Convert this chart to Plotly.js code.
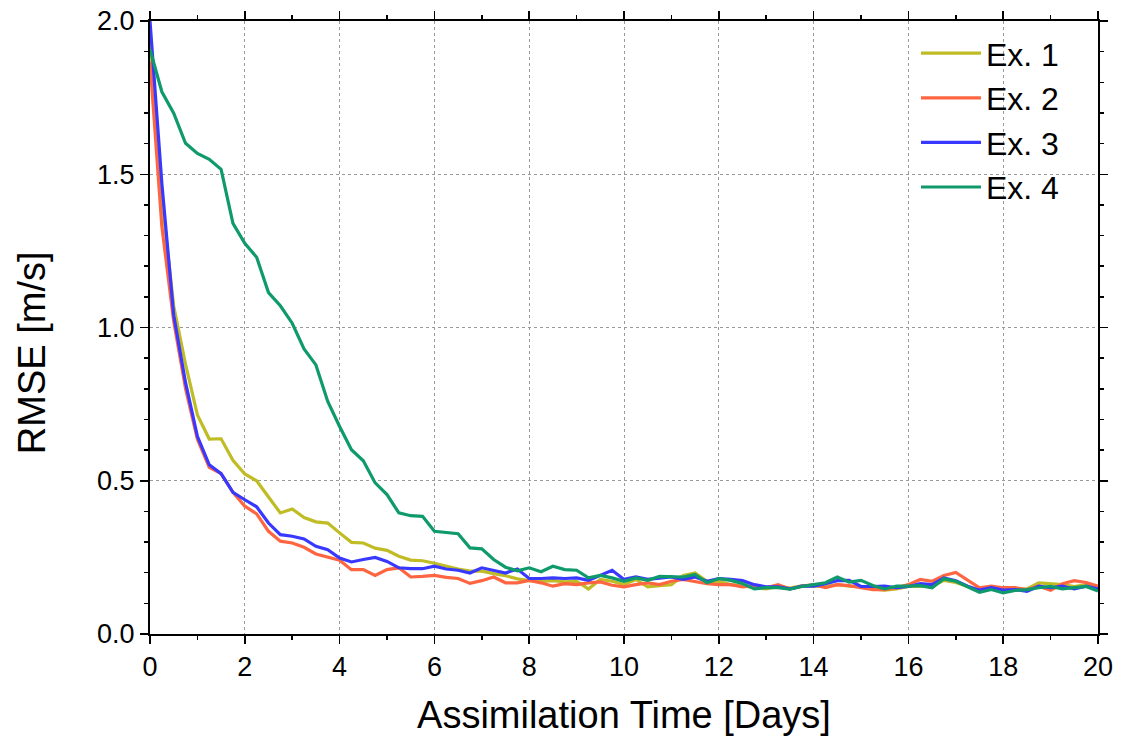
<!DOCTYPE html>
<html>
<head>
<meta charset="utf-8">
<script src="https://cdn.plot.ly/plotly-3.0.1.min.js"></script>
<style>html,body{margin:0;padding:0;background:#fff;}#chart{width:1125px;height:738px;}</style>
</head>
<body>
<div id="chart"></div>
<script>
const days = [0,0.25,0.5,0.75,1,1.25,1.5,1.75,2,2.25,2.5,2.75,3,3.25,3.5,3.75,4,4.25,4.5,4.75,
  5,5.25,5.5,5.75,6,6.25,6.5,6.75,7,7.25,7.5,7.75,8,8.25,8.5,8.75,9,9.25,9.5,9.75,
  10,10.25,10.5,10.75,11,11.25,11.5,11.75,12,12.25,12.5,12.75,13,13.25,13.5,13.75,14,14.25,14.5,14.75,
  15,15.25,15.5,15.75,16,16.25,16.5,16.75,17,17.25,17.5,17.75,18,18.25,18.5,18.75,19,19.25,19.5,19.75,20];

const ex1 = [1.95,1.42,1.07,0.88,0.715,0.636,0.637,0.567,0.522,0.500,0.447,0.395,0.408,0.380,0.366,0.362,0.330,0.299,0.297,0.280,
  0.273,0.254,0.241,0.239,0.231,0.221,0.212,0.205,0.205,0.197,0.190,0.180,0.174,0.172,0.174,0.170,0.172,0.147,0.178,0.172,
  0.161,0.178,0.154,0.158,0.161,0.191,0.199,0.172,0.172,0.161,0.158,0.151,0.147,0.155,0.150,0.157,0.156,0.155,0.161,0.156,
  0.155,0.147,0.143,0.147,0.155,0.156,0.156,0.175,0.168,0.155,0.139,0.147,0.139,0.145,0.147,0.167,0.164,0.161,0.155,0.161,0.155];

const ex2 = [1.867,1.33,1.02,0.80,0.635,0.544,0.523,0.462,0.417,0.392,0.335,0.303,0.297,0.283,0.261,0.250,0.241,0.210,0.210,0.191,
  0.210,0.216,0.186,0.188,0.191,0.185,0.181,0.165,0.174,0.186,0.167,0.167,0.175,0.167,0.156,0.164,0.161,0.167,0.170,0.159,
  0.154,0.161,0.167,0.161,0.172,0.178,0.170,0.164,0.161,0.161,0.154,0.158,0.151,0.161,0.147,0.156,0.161,0.151,0.161,0.158,
  0.151,0.145,0.145,0.151,0.161,0.178,0.172,0.191,0.201,0.176,0.151,0.156,0.151,0.151,0.145,0.156,0.143,0.164,0.174,0.168,0.156];

const ex3 = [2.0,1.47,1.04,0.82,0.645,0.552,0.523,0.462,0.438,0.415,0.362,0.324,0.319,0.310,0.286,0.275,0.248,0.235,0.243,0.250,
  0.237,0.216,0.213,0.213,0.221,0.212,0.208,0.199,0.216,0.208,0.199,0.212,0.181,0.181,0.183,0.181,0.183,0.175,0.191,0.208,
  0.178,0.186,0.178,0.183,0.186,0.178,0.186,0.172,0.181,0.178,0.174,0.161,0.154,0.154,0.147,0.156,0.156,0.164,0.174,0.175,
  0.155,0.155,0.156,0.151,0.155,0.164,0.161,0.183,0.174,0.156,0.143,0.151,0.143,0.145,0.139,0.156,0.151,0.156,0.147,0.156,0.147];

const ex4 = [1.907,1.769,1.699,1.601,1.568,1.549,1.516,1.340,1.275,1.229,1.114,1.071,1.014,0.930,0.878,0.759,0.677,0.601,0.565,0.493,
  0.455,0.395,0.386,0.384,0.335,0.332,0.327,0.281,0.278,0.243,0.218,0.206,0.216,0.203,0.221,0.210,0.208,0.183,0.191,0.183,
  0.172,0.183,0.175,0.188,0.188,0.186,0.194,0.167,0.181,0.175,0.165,0.147,0.151,0.151,0.146,0.155,0.161,0.167,0.186,0.169,
  0.175,0.158,0.147,0.156,0.156,0.158,0.151,0.180,0.172,0.154,0.136,0.145,0.134,0.142,0.145,0.151,0.155,0.147,0.151,0.155,0.140];

const seriesNames = ['Ex. 1','Ex. 2','Ex. 3','Ex. 4'];
const seriesValues = [ex1, ex2, ex3, ex4];
const seriesColors = ['#bfbc25','#ff6540','#3838ff','#0f9a6c'];
const xTitle = 'Assimilation Time [Days]';
const yTitle = 'RMSE [m/s]';

const traces = seriesValues.map((vals, i) => ({
  type: 'scatter', mode: 'lines', x: days, y: vals, name: seriesNames[i],
  line: {color: seriesColors[i], width: 3.2}
}));

const FONT = 'Liberation Sans, Arial, Helvetica, sans-serif';
const axisCommon = {
  showline: true, linecolor: '#000', linewidth: 2, mirror: 'allticks',
  ticks: 'outside', ticklen: 8, tickwidth: 1.5, tickcolor: '#000',
  showgrid: true, gridcolor: '#9a9a9a', gridwidth: 1, griddash: 'dot',
  zeroline: false, tickfont: {family: FONT, size: 27, color: '#000'}
};

const layout = {
  width: 1125, height: 738,
  margin: {l: 150, r: 27, t: 21, b: 104},
  paper_bgcolor: '#fff', plot_bgcolor: '#fff',
  font: {family: FONT, color: '#000'},
  showlegend: true,
  legend: {x: 0.808, y: 0.992, xanchor: 'left', yanchor: 'top', bgcolor: 'rgba(0,0,0,0)',
           font: {family: FONT, size: 32, color: '#000'}, itemwidth: 60, tracegroupgap: 0},
  xaxis: Object.assign({}, axisCommon, {
    range: [0, 20], dtick: 2, tick0: 0,
    minor: {dtick: 1, ticklen: 4, tickwidth: 1.5, tickcolor: '#000', ticks: 'outside', showgrid: false},
    title: {text: xTitle, font: {family: FONT, size: 38, color: '#000'}, standoff: 20}
  }),
  yaxis: Object.assign({}, axisCommon, {
    range: [0, 2], dtick: 0.5, tick0: 0, tickformat: '.1f',
    minor: {dtick: 0.1, ticklen: 4, tickwidth: 1.5, tickcolor: '#000', ticks: 'outside', showgrid: false}
  }),
  annotations: [{
    text: yTitle, xref: 'paper', yref: 'paper', x: -0.125, y: 0.459,
    xanchor: 'center', yanchor: 'middle', textangle: -90, showarrow: false,
    font: {family: FONT, size: 38, color: '#000'}
  }]
};

Plotly.newPlot('chart', traces, layout, {displayModeBar: false, staticPlot: true});
</script>
</body>
</html>
